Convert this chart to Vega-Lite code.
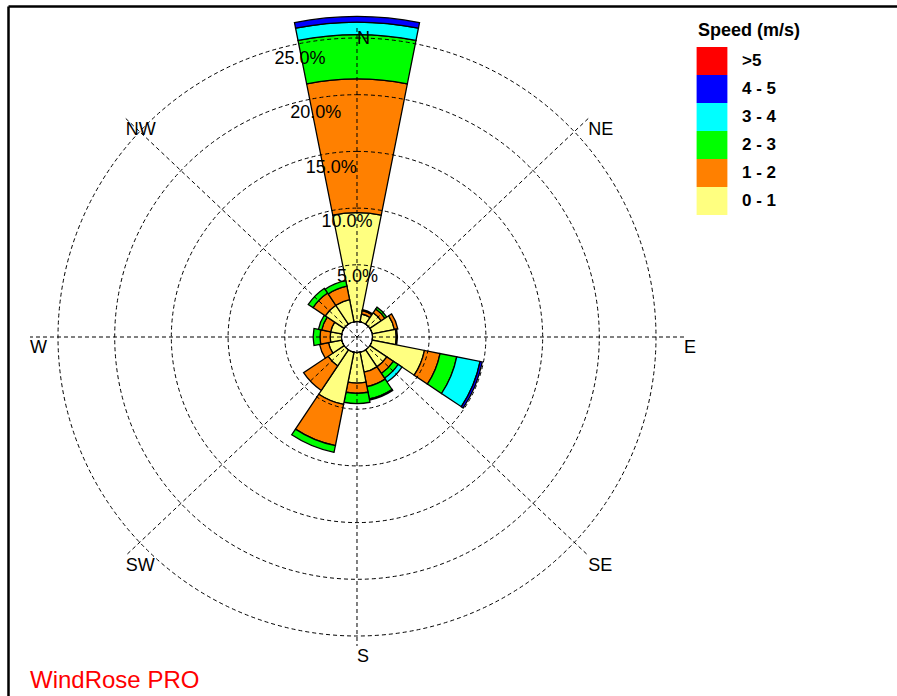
{
  "$schema": "https://vega.github.io/schema/vega-lite/v6.json",
  "width": 698,
  "height": 662,
  "autosize": {"type": "none"},
  "padding": {"left": 8, "top": 6, "right": 191, "bottom": 28},
  "background": "white",
  "title": {"text": "WindRose PRO", "orient": "bottom", "anchor": "start", "frame": "group", "offset": 0, "dx": 22, "dy": -8, "baseline": "alphabetic", "color": "#FF0000", "font": "Liberation Sans", "fontSize": 24, "fontWeight": "normal"},
  "config": {"view": {"stroke": null}},
  "datasets": {
    "wind": [
      {"dir": "N", "speed": "0 - 1", "pct": 9.6},
      {"dir": "N", "speed": "1 - 2", "pct": 11.8},
      {"dir": "N", "speed": "2 - 3", "pct": 3.9},
      {"dir": "N", "speed": "3 - 4", "pct": 1.1},
      {"dir": "N", "speed": "4 - 5", "pct": 0.5},
      {"dir": "NNE", "speed": "0 - 1", "pct": 0.7},
      {"dir": "NNE", "speed": "1 - 2", "pct": 0.3},
      {"dir": "NNE", "speed": "2 - 3", "pct": 0.1},
      {"dir": "NE", "speed": "0 - 1", "pct": 1.2},
      {"dir": "NE", "speed": "1 - 2", "pct": 0.4},
      {"dir": "NE", "speed": "2 - 3", "pct": 0.2},
      {"dir": "ENE", "speed": "0 - 1", "pct": 2.0},
      {"dir": "ENE", "speed": "1 - 2", "pct": 0.3},
      {"dir": "E", "speed": "0 - 1", "pct": 2.1},
      {"dir": "E", "speed": "1 - 2", "pct": 0.1},
      {"dir": "ESE", "speed": "0 - 1", "pct": 4.7},
      {"dir": "ESE", "speed": "1 - 2", "pct": 1.4},
      {"dir": "ESE", "speed": "2 - 3", "pct": 1.5},
      {"dir": "ESE", "speed": "3 - 4", "pct": 2.1},
      {"dir": "ESE", "speed": "4 - 5", "pct": 0.2},
      {"dir": "SE", "speed": "0 - 1", "pct": 1.8},
      {"dir": "SE", "speed": "1 - 2", "pct": 0.7},
      {"dir": "SE", "speed": "2 - 3", "pct": 0.5},
      {"dir": "SE", "speed": "3 - 4", "pct": 0.4},
      {"dir": "SSE", "speed": "0 - 1", "pct": 1.8},
      {"dir": "SSE", "speed": "1 - 2", "pct": 1.3},
      {"dir": "SSE", "speed": "2 - 3", "pct": 1.1},
      {"dir": "SSE", "speed": "3 - 4", "pct": 0.1},
      {"dir": "S", "speed": "0 - 1", "pct": 2.7},
      {"dir": "S", "speed": "1 - 2", "pct": 0.9},
      {"dir": "S", "speed": "2 - 3", "pct": 0.9},
      {"dir": "SSW", "speed": "0 - 1", "pct": 4.7},
      {"dir": "SSW", "speed": "1 - 2", "pct": 3.7},
      {"dir": "SSW", "speed": "2 - 3", "pct": 0.6},
      {"dir": "SW", "speed": "0 - 1", "pct": 1.7},
      {"dir": "SW", "speed": "1 - 2", "pct": 2.6},
      {"dir": "WSW", "speed": "0 - 1", "pct": 1.2},
      {"dir": "WSW", "speed": "1 - 2", "pct": 0.8},
      {"dir": "W", "speed": "0 - 1", "pct": 1.0},
      {"dir": "W", "speed": "1 - 2", "pct": 0.9},
      {"dir": "W", "speed": "2 - 3", "pct": 0.6},
      {"dir": "WNW", "speed": "0 - 1", "pct": 1.0},
      {"dir": "WNW", "speed": "1 - 2", "pct": 0.8},
      {"dir": "WNW", "speed": "2 - 3", "pct": 0.3},
      {"dir": "NW", "speed": "0 - 1", "pct": 2.0},
      {"dir": "NW", "speed": "1 - 2", "pct": 1.3},
      {"dir": "NW", "speed": "2 - 3", "pct": 0.5},
      {"dir": "NNW", "speed": "0 - 1", "pct": 2.0},
      {"dir": "NNW", "speed": "1 - 2", "pct": 1.2},
      {"dir": "NNW", "speed": "2 - 3", "pct": 0.5}
    ],
    "sectors": [
      {"dir": "N", "from": -11.25, "to": 11.25},
      {"dir": "NNE", "from": 11.25, "to": 33.75},
      {"dir": "NE", "from": 33.75, "to": 56.25},
      {"dir": "ENE", "from": 56.25, "to": 78.75},
      {"dir": "E", "from": 78.75, "to": 101.25},
      {"dir": "ESE", "from": 101.25, "to": 123.75},
      {"dir": "SE", "from": 123.75, "to": 146.25},
      {"dir": "SSE", "from": 146.25, "to": 168.75},
      {"dir": "S", "from": 168.75, "to": 191.25},
      {"dir": "SSW", "from": 191.25, "to": 213.75},
      {"dir": "SW", "from": 213.75, "to": 236.25},
      {"dir": "WSW", "from": 236.25, "to": 258.75},
      {"dir": "W", "from": 258.75, "to": 281.25},
      {"dir": "WNW", "from": 281.25, "to": 303.75},
      {"dir": "NW", "from": 303.75, "to": 326.25},
      {"dir": "NNW", "from": 326.25, "to": 348.75}
    ],
    "rings": [
      {"ring": 5, "label": "5.0%"},
      {"ring": 10, "label": "10.0%"},
      {"ring": 15, "label": "15.0%"},
      {"ring": 20, "label": "20.0%"},
      {"ring": 25, "label": "25.0%"}
    ],
    "compass": [
      {"label": "N", "ux": 0, "uy": 1},
      {"label": "NE", "ux": 0.7071, "uy": 0.7071},
      {"label": "E", "ux": 1, "uy": 0},
      {"label": "SE", "ux": 0.7071, "uy": -0.7071},
      {"label": "S", "ux": 0, "uy": -1},
      {"label": "SW", "ux": -0.7071, "uy": -0.7071},
      {"label": "W", "ux": -1, "uy": 0},
      {"label": "NW", "ux": -0.7071, "uy": 0.7071}
    ],
    "axes": [
      {"axis": "N-S", "ax": 0, "ay": 1, "bx": 0, "by": -1},
      {"axis": "E-W", "ax": 1, "ay": 0, "bx": -1, "by": 0},
      {"axis": "NE-SW", "ax": 0.7071, "ay": 0.7071, "bx": -0.7071, "by": -0.7071},
      {"axis": "NW-SE", "ax": -0.7071, "ay": 0.7071, "bx": 0.7071, "by": -0.7071}
    ]
  },
  "layer": [
    {
      "data": {"name": "wind"},
      "transform": [
        {"lookup": "dir", "from": {"data": {"name": "sectors"}, "key": "dir", "fields": ["from", "to"]}},
        {"stack": "pct", "groupby": ["dir"], "sort": [{"field": "speed", "order": "ascending"}], "as": ["p0", "p1"]}
      ],
      "mark": {"type": "arc", "stroke": "black", "strokeWidth": 1.3},
      "encoding": {
        "theta": {"field": "from", "type": "quantitative", "stack": null, "scale": {"domain": [0, 360], "range": [0, 6.283185307], "nice": false, "zero": false}},
        "theta2": {"field": "to"},
        "radius": {"field": "p1", "type": "quantitative", "stack": null, "scale": {"type": "linear", "domain": [0, 25], "range": [15.5, 299], "nice": false, "zero": false}},
        "radius2": {"field": "p0"},
        "color": {
          "field": "speed", "type": "nominal",
          "scale": {"domain": [">5", "4 - 5", "3 - 4", "2 - 3", "1 - 2", "0 - 1"], "range": ["#FF0000", "#0000FF", "#00FFFF", "#00FF00", "#FF8000", "#FFFF80"]},
          "legend": {"title": "Speed (m/s)", "orient": "none", "legendX": 690, "legendY": 16, "padding": 0, "titleFont": "Liberation Sans", "titleFontSize": 18, "titleFontWeight": "bold", "titleColor": "black", "titlePadding": 7, "labelFont": "Liberation Sans", "labelFontSize": 17, "labelFontWeight": "bold", "labelColor": "black", "labelOffset": 16, "labelLimit": 0, "symbolType": "M-1.1,-1H1.1V1H-1.1Z", "symbolSize": 784, "symbolStrokeWidth": 0, "symbolStrokeColor": "transparent", "symbolOpacity": 1, "rowPadding": 0}
        }
      }
    },
    {
      "data": {"name": "rings"},
      "mark": {"type": "arc", "filled": false, "stroke": "black", "strokeWidth": 1, "strokeDash": [4, 3]},
      "encoding": {
        "theta": {"value": 0},
        "theta2": {"value": 6.2832},
        "radius": {"field": "ring", "type": "quantitative", "stack": null, "scale": {"type": "linear", "domain": [0, 25], "range": [15.5, 299], "nice": false, "zero": false}}
      }
    },
    {
      "data": {"name": "axes"},
      "mark": {"type": "rule", "stroke": "black", "strokeWidth": 1, "strokeDash": [4, 3]},
      "encoding": {
        "x": {"field": "ax", "type": "quantitative", "scale": {"domain": [-1.06728, 1.65138], "range": [0, 889], "nice": false, "zero": false}, "axis": {"orient": "top", "domain": true, "domainColor": "black", "domainWidth": 2.5, "ticks": false, "labels": false, "grid": false, "title": null}},
        "y": {"field": "ay", "type": "quantitative", "scale": {"domain": [-1.16181, 1.0712], "range": [690, 0], "nice": false, "zero": false}, "axis": {"orient": "left", "domain": true, "domainColor": "black", "domainWidth": 2.5, "ticks": false, "labels": false, "grid": false, "title": null}},
        "x2": {"field": "bx"},
        "y2": {"field": "by"}
      }
    },
    {
      "data": {"name": "compass"},
      "mark": {"type": "text", "align": "left", "baseline": "top", "dy": 2, "font": "Liberation Sans", "fontSize": 18, "color": "black"},
      "encoding": {
        "x": {"field": "ux", "type": "quantitative", "scale": {"domain": [-1.06728, 1.65138], "range": [0, 889], "nice": false, "zero": false}, "axis": {"orient": "top", "domain": true, "domainColor": "black", "domainWidth": 2.5, "ticks": false, "labels": false, "grid": false, "title": null}},
        "y": {"field": "uy", "type": "quantitative", "scale": {"domain": [-1.16181, 1.0712], "range": [690, 0], "nice": false, "zero": false}, "axis": {"orient": "left", "domain": true, "domainColor": "black", "domainWidth": 2.5, "ticks": false, "labels": false, "grid": false, "title": null}},
        "text": {"field": "label"}
      }
    },
    {
      "data": {"name": "rings"},
      "mark": {"type": "text", "align": "left", "baseline": "top", "font": "Liberation Sans", "fontSize": 18, "color": "black"},
      "encoding": {
        "theta": {"value": -0.2793},
        "radius": {"field": "ring", "type": "quantitative", "stack": null, "scale": {"type": "linear", "domain": [0, 25], "range": [15.5, 299], "nice": false, "zero": false}},
        "text": {"field": "label"}
      }
    }
  ]
}
